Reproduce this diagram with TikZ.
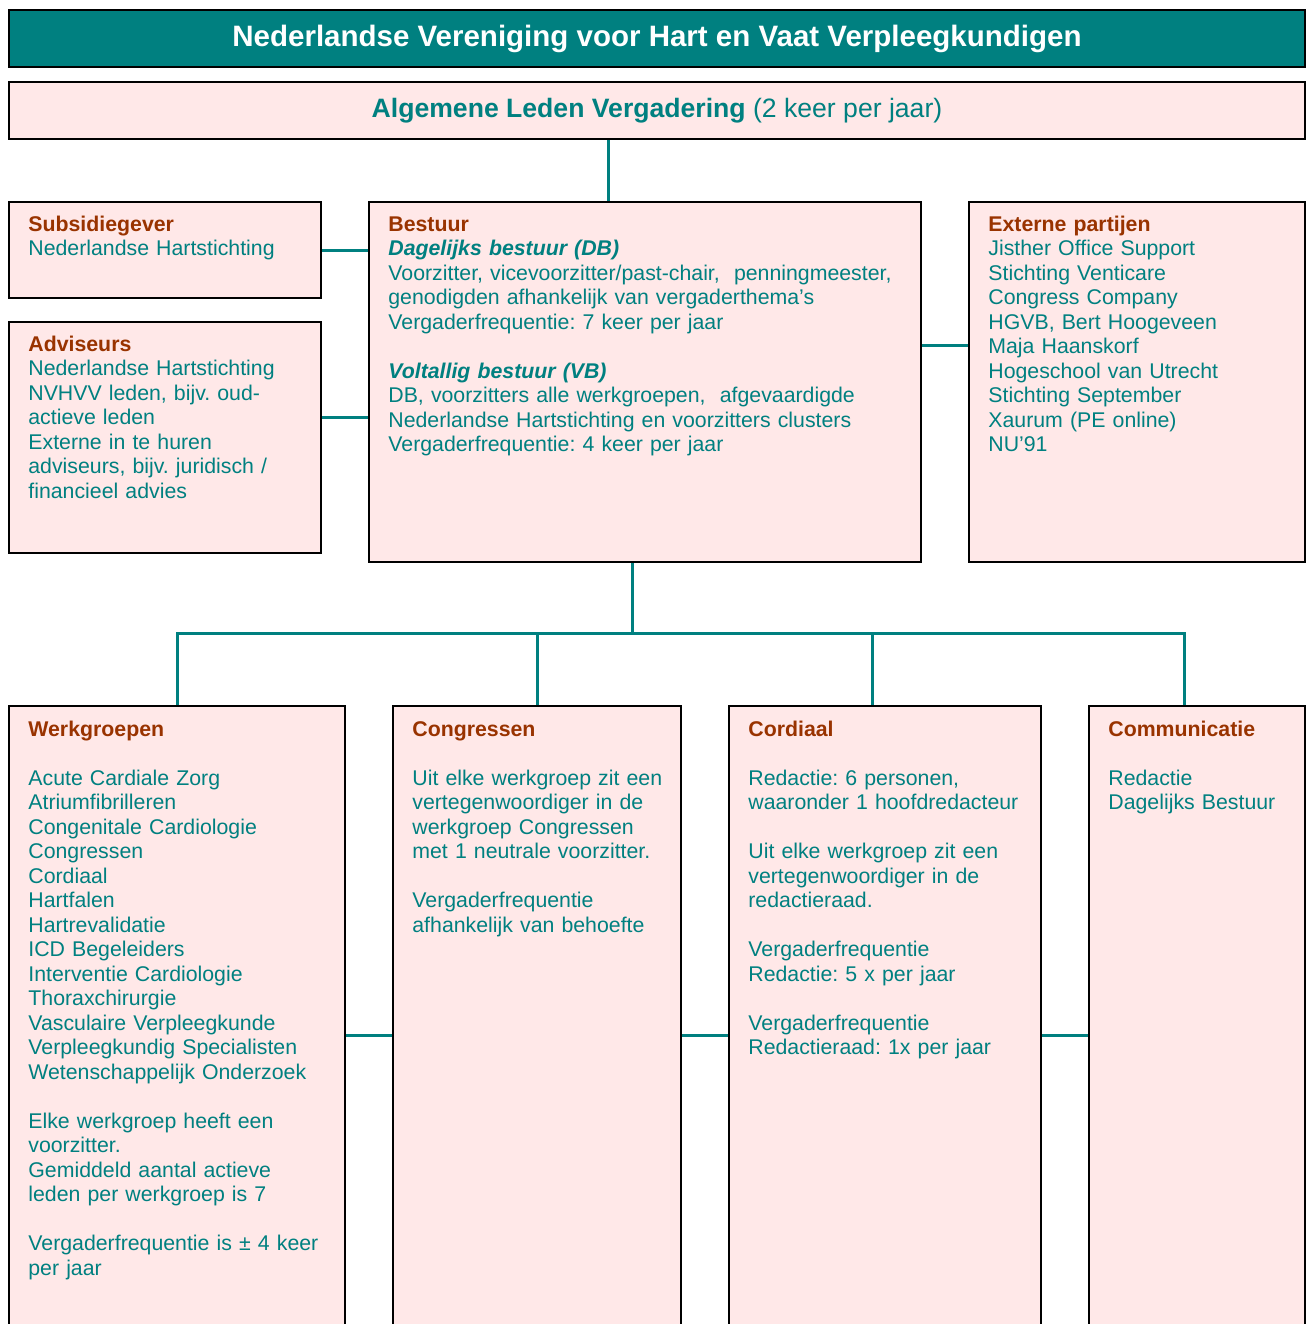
\documentclass[tikz,border=0pt]{standalone}
\usepackage{fontspec}
\setmainfont{Liberation Sans}
\usepackage{tikz}
\frenchspacing
\definecolor{nvteal}{RGB}{0,128,128}
\definecolor{nvbrown}{RGB}{153,51,0}
\definecolor{nvpink}{RGB}{255,232,232}
\newcommand{\kop}[1]{{\color{nvbrown}\bfseries #1}}
\newcommand{\bodyfont}{\fontsize{10.65}{12.25}\selectfont}
\newcommand{\leeg}{\\[12.25pt]}
\tikzstyle{box}=[draw=black, fill=nvpink, line width=1pt, anchor=north west, inner sep=0pt]
\tikzstyle{boxtext}=[anchor=base west, inner sep=0pt, align=left, text=nvteal, font=\bodyfont]
\tikzstyle{conn}=[draw=nvteal, line width=1.5pt]

\begin{document}
\begin{tikzpicture}[x=0.5pt, y=-0.5pt]
\useasboundingbox (0,0) rectangle (1307,1324);
\clip (0,0) rectangle (1307,1324);

% top rows
\node[box, fill=nvteal, minimum width=648pt, minimum height=28.5pt, text=white, font=\fontsize{14.75}{17}\selectfont\bfseries] (titel) at (8,9) {Nederlandse Vereniging voor Hart en Vaat Verpleegkundigen};
\node[box, minimum width=648pt, minimum height=28.5pt, text=nvteal, font=\fontsize{13.3}{15}\selectfont] (alv) at (8,81) {\textbf{Algemene Leden Vergadering} (2 keer per jaar)};

% 2nd row
\node[box, minimum width=156pt, minimum height=48pt] (subs) at (8,201) {};
\node[box, minimum width=156pt, minimum height=115.5pt] (adv) at (8,321) {};
\node[box, minimum width=276pt, minimum height=180pt] (bestuur) at (368,201) {};
\node[box, minimum width=168pt, minimum height=180pt] (extern) at (968,201) {};

\node[boxtext, text width=146pt] (subs_t) at (28,231) {\kop{Subsidiegever}\\
Nederlandse Hartstichting};
\node[boxtext, text width=146pt] (adv_t) at (28,351) {\kop{Adviseurs}\\
Nederlandse Hartstichting\\
NVHVV leden, bijv. oud-\\
actieve leden\\
Externe in te huren\\
adviseurs, bijv. juridisch /\\
financieel advies};
\node[boxtext, text width=268pt] (bestuur_t) at (388,231) {\kop{Bestuur}\\
\textbf{\textit{Dagelijks bestuur (DB)}}\\
Voorzitter, vicevoorzitter/past-chair,~ penningmeester,\\
genodigden afhankelijk van vergaderthema’s\\
Vergaderfrequentie: 7 keer per jaar\leeg
\textbf{\textit{Voltallig bestuur (VB)}}\\
DB, voorzitters alle werkgroepen,~ afgevaardigde\\
Nederlandse Hartstichting en voorzitters clusters\\
Vergaderfrequentie: 4 keer per jaar};
\node[boxtext, text width=156pt] (extern_t) at (988,231) {\kop{Externe partijen}\\
Jisther Office Support\\
Stichting Venticare\\
Congress Company\\
HGVB, Bert Hoogeveen\\
Maja Haanskorf\\
Hogeschool van Utrecht\\
Stichting September\\
Xaurum (PE online)\\
NU’91};

% 3rd row
\node[box, minimum width=168pt, minimum height=329pt] (werk) at (8,705) {};
\node[box, minimum width=144pt, minimum height=329pt] (congr) at (392,705) {};
\node[box, minimum width=156pt, minimum height=329pt] (cord) at (728,705) {};
\node[box, minimum width=108pt, minimum height=329pt] (comm) at (1088,705) {};

\node[boxtext, text width=160pt] (werk_t) at (28,736) {\kop{Werkgroepen}\leeg
Acute Cardiale Zorg\\
Atriumfibrilleren\\
Congenitale Cardiologie\\
Congressen\\
Cordiaal\\
Hartfalen\\
Hartrevalidatie\\
ICD Begeleiders\\
Interventie Cardiologie\\
Thoraxchirurgie\\
Vasculaire Verpleegkunde\\
Verpleegkundig Specialisten\\
Wetenschappelijk Onderzoek\leeg
Elke werkgroep heeft een\\
voorzitter.\\
Gemiddeld aantal actieve\\
leden per werkgroep is 7\leeg
Vergaderfrequentie is ± 4 keer\\
per jaar};
\node[boxtext, text width=136pt] (congr_t) at (412,736) {\kop{Congressen}\leeg
Uit elke werkgroep zit een\\
vertegenwoordiger in de\\
werkgroep Congressen\\
met 1 neutrale voorzitter.\leeg
Vergaderfrequentie\\
afhankelijk van behoefte};
\node[boxtext, text width=148pt] (cord_t) at (748,736) {\kop{Cordiaal}\leeg
Redactie: 6 personen,\\
waaronder 1 hoofdredacteur\leeg
Uit elke werkgroep zit een\\
vertegenwoordiger in de\\
redactieraad.\leeg
Vergaderfrequentie\\
Redactie: 5 x per jaar\leeg
Vergaderfrequentie\\
Redactieraad: 1x per jaar};
\node[boxtext, text width=100pt] (comm_t) at (1108,736) {\kop{Communicatie}\leeg
Redactie\\
Dagelijks Bestuur};

% connectors
\coordinate (alv_tap) at (608,138);
\coordinate (adv_tap) at (320,417);
\coordinate (ext_tap) at (920,345);
\coordinate (bus) at (632,633);
\coordinate (bus_cord) at (872,633);
\coordinate (bus_comm) at (1184,633);

\draw[conn] (alv.south -| alv_tap) -- (bestuur.north -| alv_tap);
\draw[conn] (subs.east) -- (subs.east -| bestuur.west);
\draw[conn] (adv.east |- adv_tap) -- (bestuur.west |- adv_tap);
\draw[conn] (bestuur.east |- ext_tap) -- (extern.west |- ext_tap);

\draw[conn] (bestuur.south -| bus) -- (bus);
\draw[conn] (werk.north) |- (bus_comm) -- (bus_comm |- comm.north);
\draw[conn] (congr.north) -- (congr.north |- bus);
\draw[conn] (bus_cord) -- (bus_cord |- cord.north);

\draw[conn] (werk.east) -- (congr.west);
\draw[conn] (congr.east) -- (cord.west);
\draw[conn] (cord.east) -- (comm.west);

\end{tikzpicture}
\end{document}
